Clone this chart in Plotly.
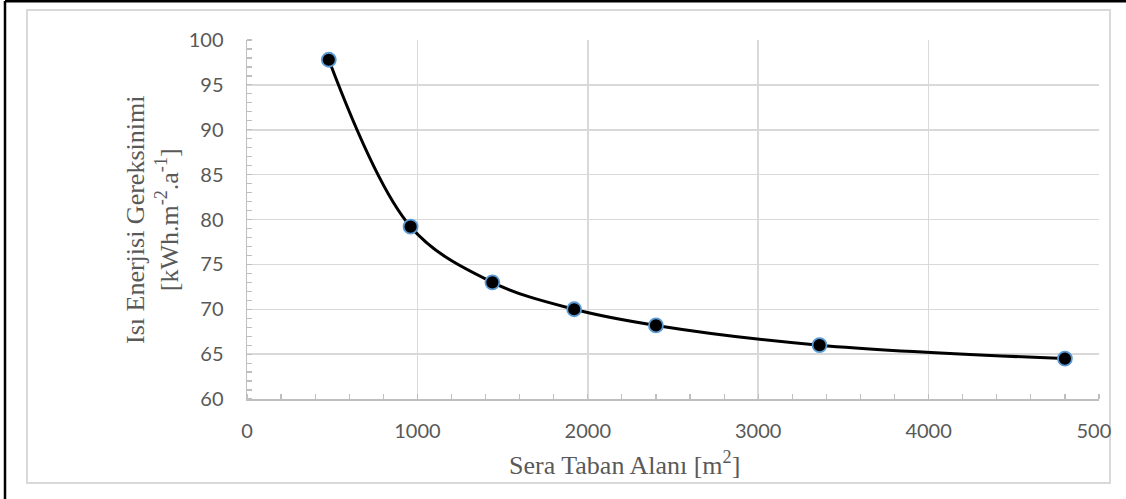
import plotly.graph_objects as go

# ---- data ----
area = [480, 960, 1440, 1920, 2400, 3360, 4800]
energy = [97.8, 79.2, 73.0, 70.0, 68.2, 66.0, 64.5]
x_tick_vals = [0, 1000, 2000, 3000, 4000, 5000]
x_tick_text = ["0", "1000", "2000", "3000", "4000", "500\u00a0\u00a0"]
y_tick_vals = [60, 65, 70, 75, 80, 85, 90, 95, 100]

W, H = 1126, 499
L, R, T, B = 247, 1099, 40, 399


def px(xp):
    return (xp - L) / (R - L)


def py(yp):
    return (B - yp) / (B - T)


fig = go.Figure()
fig.add_trace(go.Scatter(
    x=area, y=energy, mode="lines+markers",
    line=dict(color="black", width=3, shape="spline", smoothing=1.0),
    marker=dict(size=14, color="black", line=dict(color="#5B9BD5", width=1.8)),
    showlegend=False, cliponaxis=False, hoverinfo="skip",
))

tick_font = dict(family="Lato, Open Sans, sans-serif", size=20, color="#595959")
title_font = dict(family="Liberation Serif, Times New Roman, serif", size=26, color="#595959")

fig.update_xaxes(
    range=[0, 5000], tickvals=x_tick_vals, ticktext=x_tick_text,
    showgrid=True, gridcolor="#D9D9D9", gridwidth=1.5,
    showline=True, linecolor="#BFBFBF", linewidth=1.5,
    ticks="", tickfont=tick_font, ticklabelstandoff=13,
    ticklabeloverflow="allow", automargin=False,
    minor=dict(dtick=200, ticks="inside", ticklen=5, tickcolor="#BFBFBF", tickwidth=1.2, showgrid=False),
    zeroline=False, fixedrange=True,
)
fig.update_yaxes(
    range=[60, 100], tickvals=y_tick_vals,
    showgrid=True, gridcolor="#D9D9D9", gridwidth=1.5,
    showline=True, linecolor="#BFBFBF", linewidth=1.5,
    ticks="", tickfont=tick_font, ticklabelstandoff=18,
    ticklabeloverflow="allow", automargin=False,
    minor=dict(dtick=1, ticks="inside", ticklen=5, tickcolor="#BFBFBF", tickwidth=1.2, showgrid=False),
    zeroline=False, fixedrange=True,
)

shapes = [
    # inner chart-area border
    dict(type="rect", xref="paper", yref="paper",
         x0=px(27), x1=px(1110), y0=py(483), y1=py(10),
         line=dict(color="#D9D9D9", width=2), layer="below"),
    # outer black frame (left and top edges)
    dict(type="line", xref="paper", yref="paper",
         x0=px(5), x1=px(5), y0=py(1), y1=py(520),
         line=dict(color="black", width=2.5)),
    dict(type="line", xref="paper", yref="paper",
         x0=px(5), x1=px(1160), y0=py(1.2), y1=py(1.2),
         line=dict(color="black", width=2.5)),
]

annotations = [
    dict(text="Sera Taban Alanı [m<sup>2</sup>]", xref="paper", yref="paper",
         x=px(624), y=py(463), xanchor="center", yanchor="middle",
         showarrow=False, font=title_font),
    dict(text="Isı Enerjisi Gereksinimi<br>[kWh.m<sup>-2</sup>.a<sup>-1</sup>]",
         xref="paper", yref="paper", x=px(152), y=py(220),
         xanchor="center", yanchor="middle", textangle=-90,
         showarrow=False, font=title_font),
]

fig.update_layout(
    width=W, height=H, autosize=False,
    margin=dict(l=L, r=W - R, t=T, b=H - B, pad=0, autoexpand=False),
    paper_bgcolor="white", plot_bgcolor="white",
    shapes=shapes, annotations=annotations,
    hovermode=False,
)

fig.write_html(
    "out.html",
    config=dict(displayModeBar=False, responsive=False, staticPlot=True),
    post_script="document.body.style.margin='0';document.body.style.overflow='hidden';",
)
